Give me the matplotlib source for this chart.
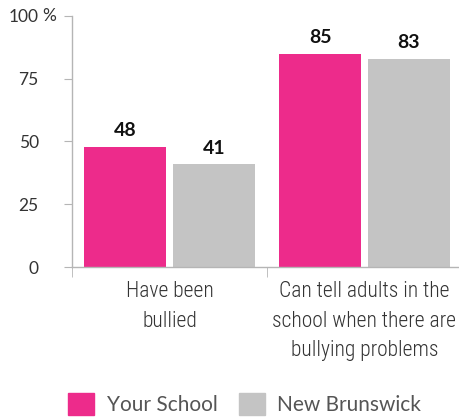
import matplotlib
matplotlib.use("Agg")
import matplotlib.pyplot as plt
from matplotlib.patches import Patch
import numpy as np

categories = ["Have been\nbullied", "Can tell adults in the\nschool when there are\nbullying problems"]
your_school = [48, 85]
new_brunswick = [41, 83]
series_names = ["Your School", "New Brunswick"]
yticks = [0, 25, 50, 75, 100]

pink = "#ED2B8B"
grey = "#C4C4C4"
text_col = "#333333"
axis_col = "#B5B5B5"

plt.rcParams["font.family"] = ["Lato", "DejaVu Sans"]

fig = plt.figure(figsize=(4.6, 4.19), dpi=100)
ax = fig.add_axes([72 / 460, 152 / 419, 1 - 72 / 460, 251 / 419])

x = np.arange(len(categories))
w = 0.42
off = 0.227
b1 = ax.bar(x - off, your_school, w, color=pink)
b2 = ax.bar(x + off, new_brunswick, w, color=grey)

for bars, vals in ((b1, your_school), (b2, new_brunswick)):
    for r, v in zip(bars, vals):
        ax.text(r.get_x() + r.get_width() / 2, v + 3, str(v), ha="center", va="bottom",
                fontsize=14, fontweight="bold", color="#111111")

ax.set_xlim(-0.5, 1.49)
ax.set_ylim(0, 100)
ax.set_yticks(yticks)
ax.set_yticklabels([str(t) for t in yticks], fontsize=12.5, color=text_col)
ax.tick_params(axis="y", length=6, color=axis_col, pad=18)
# the "%" hangs after the 100 label
ax.text(-0.077, 1.0, "%", transform=ax.transAxes, ha="left", va="center",
        fontsize=12.5, color=text_col)

ax.set_xticks(x)
ax.set_xticklabels(categories, fontsize=15.5, color=text_col,
                   family=["Roboto Condensed", "Lato"], fontweight="light", linespacing=1.55)
ax.set_xticks([-0.5, 0.5], minor=True)
ax.tick_params(axis="x", which="major", length=0, pad=10)
ax.tick_params(axis="x", which="minor", length=7, color=axis_col)

for s in ("top", "right"):
    ax.spines[s].set_visible(False)
for s in ("left", "bottom"):
    ax.spines[s].set_color(axis_col)
    ax.spines[s].set_linewidth(1)

handles = [Patch(color=pink), Patch(color=grey)]
fig.legend(handles, series_names, loc="center", bbox_to_anchor=(0.532, 0.035), ncol=2,
           frameon=False, handlelength=1.25, handleheight=1.25,
           handletextpad=0.6, columnspacing=1.0, labelcolor="#555555",
           prop={"family": "Lato", "size": 15})

fig.savefig("out.png", dpi=100)
